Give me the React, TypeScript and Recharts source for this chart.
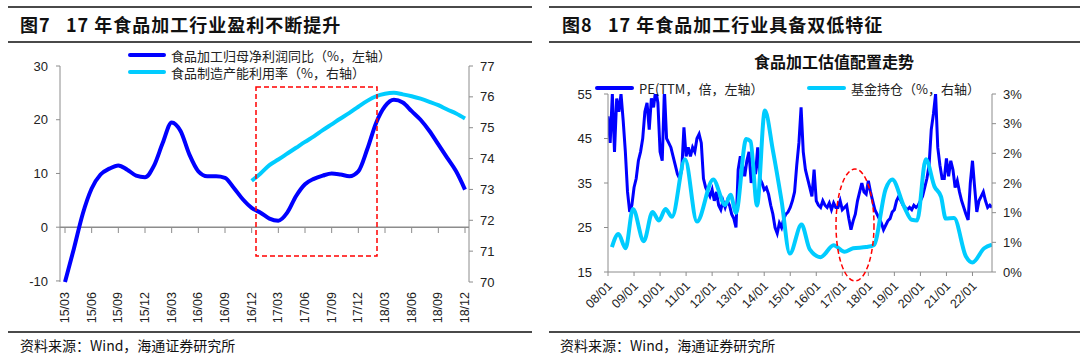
import { LineChart, Line, XAxis, YAxis, ReferenceLine } from "recharts";

const NUM_FONT = '"Liberation Sans", Arial, "Noto Sans CJK SC", sans-serif';
const CJK_FONT = '"Noto Sans CJK SC", "Liberation Sans", sans-serif';
const AXIS_GREY = "#8c8c8c";
const BLUE = "#0000ff";
const CYAN = "#00ccff";

// ---------- 图7 ----------
const profitMonths = [
  "15/03", "15/04", "15/05", "15/06", "15/07", "15/08", "15/09", "15/10", "15/11", "15/12",
  "16/01", "16/02", "16/03", "16/04", "16/05", "16/06", "16/07", "16/08", "16/09", "16/10", "16/11", "16/12",
  "17/01", "17/02", "17/03", "17/04", "17/05", "17/06", "17/07", "17/08", "17/09", "17/10", "17/11", "17/12",
  "18/01", "18/02", "18/03", "18/04", "18/05", "18/06", "18/07", "18/08", "18/09", "18/10", "18/11", "18/12",
];
// 食品加工归母净利润同比（%，左轴）
const profitYoY = [
  -10.2, -4, 2.5, 7.2, 9.8, 10.9, 11.5, 10.7, 9.6, 9.3,
  11.4, 15.7, 19.5, 17.9, 13.5, 10.4, 9.5, 9.5, 9.2, 7.3, 5.2, 3.6,
  2.7, 1.6, 1.2, 2.7, 5.8, 8.0, 9.0, 9.6, 10.0, 9.8, 9.5, 10.4,
  14.5, 19.4, 22.5, 23.7, 23.2, 21.6, 20.0, 17.9, 15.4, 12.9, 10.4, 7.0,
];
// 食品制造产能利用率（%，右轴）
const capacityUtil: (number | null)[] = [
  null, null, null, null, null, null, null, null, null, null,
  null, null, null, null, null, null, null, null, null, null, null, 73.28,
  73.52, 73.79, 73.97, 74.16, 74.35, 74.54, 74.72, 74.92, 75.11, 75.3, 75.48, 75.68,
  75.87, 76.02, 76.1, 76.13, 76.08, 76.02, 75.94, 75.84, 75.73, 75.59, 75.46, 75.3,
];
const profitLeftTicks = [-10, 0, 10, 20, 30];
const profitRightTicks = [70, 71, 72, 73, 74, 75, 76, 77];

// ---------- 图8 ----------
// PE(TTM，倍，左轴), one reading per month from 2008/01
const peTTM = [
  50, 44, 55, 42, 54, 51, 55, 49, 42, 33,
  28.5, 30, 34, 36, 40, 42, 45, 51, 53, 47,
  54, 52, 56, 53, 42, 40, 56, 45, 44, 43,
  41, 39, 37, 36, 38, 47.5, 41, 43, 41, 43,
  42, 45, 46, 44, 36, 34, 33, 32, 33.5, 31,
  33, 30, 29, 31, 29.5, 31, 30, 28, 27, 25,
  38, 41, 39, 36.5, 40, 42, 35, 39, 37, 43,
  36, 35, 33.5, 34, 32.5, 30, 28, 25, 23.7, 26,
  25, 27, 28, 28.5, 29.5, 31, 33, 39, 44, 52,
  42, 38, 36, 34, 32, 38, 31, 30, 29.5, 31,
  30, 29.5, 30.5, 29, 30.5, 29.5, 29.5, 31, 29, 29.5,
  30, 27, 24.5, 26.5, 28, 31, 33, 35, 33, 32.5,
  35.5, 33, 31, 29, 28, 27, 26, 24.5, 25.5, 26.5,
  27, 28.5, 29, 31, 32, 31, 30, 29.5, 29, 29.5,
  29, 30, 29.5, 30, 31, 32, 34, 36, 39, 47,
  50.5, 55, 43, 39, 36, 36, 40.5, 36.5, 40, 38,
  34, 35.5, 33, 31, 29.5, 28, 26.7, 35, 40, 34,
  28.5, 31, 32, 33, 31, 29.5, 30, 29.5,
];
// 基金持仓（%，右轴）
const fundMonths = [
  1.8, 4.8, 8.1, 11.5, 16.5, 20.5, 23.5, 26.5, 29.5, 35.5,
  41, 48.5, 54, 56.5, 59, 63.7, 65.7, 68.7, 72.3, 76,
  80, 83.8, 89.2, 93, 98, 104, 109, 113, 119, 122.5,
  128, 131, 136.5, 140, 142.5, 146.5, 150.5, 153.5, 155.7, 159.5,
  165, 168, 173.4, 177,
];
const fundHolding = [
  0.42, 0.64, 0.4, 1.06, 0.52, 1.01, 0.87, 1.06, 0.93, 1.9,
  0.85, 1.56, 1.13, 1.3, 1.0, 2.24, 2.2, 1.12, 2.72, 2.05,
  1.2, 0.31, 0.8, 0.38, 0.25, 0.45, 0.34, 0.4, 0.42, 0.45,
  1.4, 1.56, 1.1, 0.88, 0.87, 1.9, 1.44, 1.27, 0.9, 0.91,
  0.26, 0.16, 0.4, 0.46,
];
const yearTickMonths = [0, 12, 24, 36, 48, 60, 72, 84, 96, 108, 120, 132, 144, 156, 168];
const yearTickLabels = [
  "08/01", "09/01", "10/01", "11/01", "12/01", "13/01", "14/01", "15/01",
  "16/01", "17/01", "18/01", "19/01", "20/01", "21/01", "22/01",
];
const peTicks = [15, 25, 35, 45, 55];
const fundTicks = [0, 0.5, 1, 1.5, 2, 2.5, 3];

const profitData = profitMonths.map((month, i) => ({
  month,
  yoy: profitYoY[i],
  util: capacityUtil[i],
}));
const peData = peTTM.map((pe, i) => ({ m: i, pe }));
const fundData = fundMonths.map((m, i) => ({ m, fund: fundHolding[i] }));

// left chart plot box (used for the zero-line tick marks)
const P_TOP = 66;
const P_H = 216;
const zeroY = P_TOP + ((30 - 0) / 40) * P_H;

function VerticalTick(props: any) {
  const { x, payload } = props;
  return (
    <g>
      <line x1={x} x2={x} y1={zeroY} y2={zeroY + 5} stroke={AXIS_GREY} />
      <text
        x={x}
        y={292}
        transform={`rotate(-90 ${x} 292)`}
        textAnchor="end"
        dominantBaseline="central"
        fontSize={12.5}
        fill="#222"
        fontFamily={NUM_FONT}
      >
        {payload.value}
      </text>
    </g>
  );
}

function SlantTick(props: any) {
  const { x, y, payload } = props;
  const label = yearTickLabels[yearTickMonths.indexOf(payload.value)];
  const ax = x + 2;
  const ay = y + 6;
  return (
    <text
      x={ax}
      y={ay}
      transform={`rotate(-45 ${ax} ${ay})`}
      textAnchor="end"
      dominantBaseline="central"
      fontSize={12.5}
      fill="#222"
      fontFamily={NUM_FONT}
    >
      {label}
    </text>
  );
}

const tickStyle = { fontSize: 13, fill: "#222", fontFamily: NUM_FONT };

function Rule({ x, y, w, h }: { x: number; y: number; w: number; h: number }) {
  return <div style={{ position: "absolute", left: x, top: y, width: w, height: h, background: "#4a4a4a" }} />;
}

function Text({ x, y, size, bold, spacing, children }: any) {
  return (
    <div
      style={{
        position: "absolute",
        left: x,
        top: y,
        fontSize: size,
        fontWeight: bold ? 700 : 400,
        fontFamily: CJK_FONT,
        color: "#111",
        whiteSpace: "nowrap",
        lineHeight: 1,
        letterSpacing: spacing || 0,
      }}
    >
      {children}
    </div>
  );
}

function LegendItem({ x, y, color, label, lineW = 38 }: any) {
  return (
    <div style={{ position: "absolute", left: x, top: y - 8, display: "flex", alignItems: "center", height: 16 }}>
      <div style={{ width: lineW, height: 4, background: color, borderRadius: 2 }} />
      <span style={{ marginLeft: 5, fontSize: 13, fontFamily: CJK_FONT, color: "#222", whiteSpace: "nowrap" }}>
        {label}
      </span>
    </div>
  );
}

export default function App() {
  return (
    <div style={{ position: "absolute", left: 0, top: 0, width: 1080, height: 362, background: "#fff", overflow: "hidden" }}>
      {/* frames */}
      <Rule x={8} y={6} w={524} h={2} />
      <Rule x={8} y={41} w={524} h={2} />
      <Rule x={8} y={331} w={524} h={2} />
      <Rule x={549} y={6} w={531} h={2} />
      <Rule x={549} y={41} w={531} h={2} />
      <Rule x={549} y={331} w={531} h={2} />

      <Text x={20} y={15} size={18} bold spacing={1}>
        图7&nbsp;&nbsp;&nbsp;17 年食品加工行业盈利不断提升
      </Text>
      <Text x={562} y={15} size={18} bold spacing={1}>
        图8&nbsp;&nbsp;&nbsp;17 年食品加工行业具备双低特征
      </Text>
      <Text x={20} y={338} size={14}>
        资料来源：Wind，海通证券研究所
      </Text>
      <Text x={560} y={338} size={14}>
        资料来源：Wind，海通证券研究所
      </Text>

      {/* 图7 */}
      <div style={{ position: "absolute", left: 0, top: 0 }}>
        <LineChart width={540} height={362} data={profitData} margin={{ top: 66, right: 31, bottom: 40, left: 10 }}>
          <XAxis
            dataKey="month"
            interval={2}
            axisLine={false}
            tickLine={false}
            height={40}
            padding={{ left: 5, right: 4 }}
            tick={<VerticalTick />}
          />
          <YAxis
            yAxisId="left"
            domain={[-10, 30]}
            ticks={profitLeftTicks}
            width={50}
            stroke={AXIS_GREY}
            tickSize={4}
            tickMargin={8}
            tick={tickStyle}
          />
          <YAxis
            yAxisId="right"
            orientation="right"
            domain={[70, 77]}
            ticks={profitRightTicks}
            width={40}
            stroke={AXIS_GREY}
            tickSize={4}
            tickMargin={7}
            tick={tickStyle}
          />
          <ReferenceLine yAxisId="left" y={0} stroke={AXIS_GREY} strokeWidth={1.5} />
          <Line
            yAxisId="left"
            dataKey="yoy"
            type="monotone"
            stroke={BLUE}
            strokeWidth={4}
            dot={false}
            isAnimationActive={false}
          />
          <Line
            yAxisId="right"
            dataKey="util"
            type="monotone"
            stroke={CYAN}
            strokeWidth={4}
            dot={false}
            isAnimationActive={false}
          />
        </LineChart>
      </div>
      <LegendItem x={128} y={55} color={BLUE} label="食品加工归母净利润同比（%，左轴）" />
      <LegendItem x={128} y={72} color={CYAN} label="食品制造产能利用率（%，右轴）" />

      {/* 图8 */}
      <div style={{ position: "absolute", left: 540, top: 0 }}>
        <LineChart width={540} height={362} margin={{ top: 94, right: 38, bottom: 50, left: 18 }}>
          <XAxis
            type="number"
            dataKey="m"
            domain={[0, 177]}
            ticks={yearTickMonths}
            interval={0}
            allowDataOverflow
            height={40}
            stroke={AXIS_GREY}
            tickSize={4}
            tick={<SlantTick />}
          />
          <YAxis
            yAxisId="pe"
            domain={[15, 55]}
            ticks={peTicks}
            allowDataOverflow
            width={50}
            stroke={AXIS_GREY}
            tickSize={4}
            tickMargin={12}
            tick={tickStyle}
          />
          <YAxis
            yAxisId="fund"
            orientation="right"
            domain={[0, 3]}
            ticks={fundTicks}
            interval={0}
            width={50}
            stroke={AXIS_GREY}
            tickSize={4}
            tickMargin={7}
            tick={tickStyle}
            tickFormatter={(v: number) => `${Math.round(v)}%`}
          />
          <Line
            yAxisId="pe"
            data={peData}
            dataKey="pe"
            type="linear"
            stroke={BLUE}
            strokeWidth={3}
            dot={false}
            isAnimationActive={false}
          />
          <Line
            yAxisId="fund"
            data={fundData}
            dataKey="fund"
            type="monotone"
            stroke={CYAN}
            strokeWidth={4}
            dot={false}
            isAnimationActive={false}
          />
        </LineChart>
      </div>
      <div
        style={{
          position: "absolute",
          left: 540,
          width: 588,
          top: 53,
          textAlign: "center",
          fontSize: 16,
          fontWeight: 600,
          fontFamily: CJK_FONT,
          color: "#111",
          lineHeight: 1,
        }}
      >
        食品加工估值配置走势
      </div>
      <LegendItem x={595} y={88} color={BLUE} label="PE(TTM，倍，左轴）" lineW={39} />
      <LegendItem x={807} y={88} color={CYAN} label="基金持仓（%，右轴）" lineW={39} />

      {/* annotations */}
      <svg width={1080} height={362} style={{ position: "absolute", left: 0, top: 0, pointerEvents: "none" }}>
        <rect x={256} y={87} width={121} height={169} fill="none" stroke="#ff0000" strokeWidth={1.5} strokeDasharray="5 3" />
        <ellipse cx={855} cy={225} rx={19} ry={56} fill="none" stroke="#ff0000" strokeWidth={1.5} strokeDasharray="5 3" />
      </svg>
    </div>
  );
}
